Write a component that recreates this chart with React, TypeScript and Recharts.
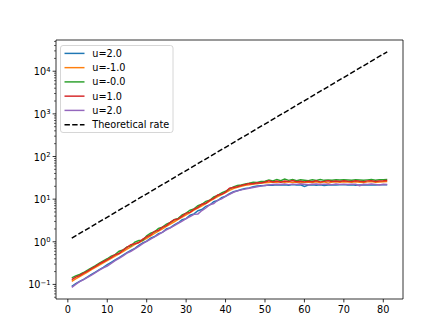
import { LineChart, Line, XAxis, YAxis, Legend, ReferenceArea } from 'recharts'

// growth of the perturbation norm for each u, one value per step (1..81)
const uTwoA = [
  0.09, 0.104, 0.118, 0.132, 0.15, 0.172, 0.195, 0.222, 0.252, 0.29,
  0.33, 0.375, 0.425, 0.485, 0.555, 0.63, 0.7, 0.82, 0.94, 1.04,
  1.22, 1.33, 1.56, 1.66, 2.0, 2.15, 2.5, 2.8, 3.3, 3.5,
  4.2, 4.5, 5.35, 5.7, 6.8, 7.3, 8.7, 9.3, 10.9, 11.7,
  13.4, 14.9, 15.8, 16.8, 17.9, 18.4, 19.5, 20.3, 20.6, 21.0,
  21.4, 21.2, 21.8, 21.3, 21.6, 21.1, 21.9, 21.5, 21.7, 19.8,
  21.4, 21.8, 21.2, 21.6, 20.9, 21.5, 21.8, 21.3, 21.6, 21.9,
  21.5, 21.7, 21.2, 21.6, 21.4, 21.8, 21.5, 21.3, 21.6, 21.7,
  21.6,
]

const uMinusOne = [
  0.118, 0.135, 0.152, 0.172, 0.195, 0.222, 0.25, 0.285, 0.32, 0.36,
  0.41, 0.46, 0.52, 0.59, 0.67, 0.76, 0.87, 0.96, 1.06, 1.2,
  1.38, 1.58, 1.78, 2.02, 2.3, 2.6, 2.95, 3.35, 3.8, 4.3,
  4.8, 5.5, 6.2, 7.0, 7.9, 9.0, 10.1, 11.4, 12.8, 14.2,
  16.0, 17.6, 18.9, 20.0, 21.2, 21.8, 22.6, 23.0, 23.8, 24.2,
  24.6, 25.2, 24.8, 25.6, 24.9, 25.4, 24.6, 25.2, 23.9, 25.0,
  25.3, 24.7, 25.5, 24.3, 25.6, 23.8, 25.1, 25.4, 24.8, 25.6,
  25.2, 24.9, 25.7, 25.0, 24.6, 25.4, 25.8, 24.9, 25.3, 25.5,
  25.8,
]

const uZero = [
  0.142, 0.158, 0.172, 0.19, 0.215, 0.245, 0.275, 0.315, 0.355, 0.4,
  0.46, 0.5, 0.6, 0.64, 0.76, 0.8, 0.98, 1.07, 1.07, 1.38,
  1.6, 1.72, 2.05, 2.2, 2.6, 2.85, 3.3, 3.55, 4.3, 4.7,
  5.5, 5.9, 7.0, 7.6, 8.9, 9.4, 11.3, 12.2, 14.1, 15.3,
  17.5, 19.4, 20.8, 21.5, 22.8, 23.6, 24.8, 24.5, 25.8, 26.4,
  28.0, 26.8, 29.0, 27.2, 29.5, 27.6, 28.8, 27.0, 28.4, 27.8,
  27.2, 28.6, 27.4, 28.9, 27.6, 28.2, 27.8, 28.6, 28.2, 28.4,
  28.0, 27.6, 28.5, 28.1, 27.8, 28.3, 28.9, 27.9, 28.5, 28.7,
  29.0,
]

const uOne = [
  0.13, 0.148, 0.162, 0.185, 0.205, 0.235, 0.265, 0.305, 0.34, 0.38,
  0.43, 0.5, 0.53, 0.64, 0.74, 0.86, 0.9, 0.96, 1.15, 1.3,
  1.45, 1.76, 1.85, 2.2, 2.4, 2.85, 3.3, 3.45, 4.0, 4.7,
  4.9, 5.8, 6.4, 7.6, 8.0, 9.5, 10.4, 12.5, 13.0, 14.6,
  18.0, 18.8, 19.5, 21.0, 22.0, 23.2, 23.0, 24.2, 24.0, 25.2,
  27.0, 25.4, 26.6, 25.0, 26.5, 25.8, 27.3, 25.6, 26.4, 25.4,
  26.2, 25.6, 26.9, 25.4, 26.1, 27.0, 25.9, 26.5, 26.0, 27.1,
  26.4, 26.0, 26.9, 26.2, 25.7, 26.8, 27.1, 26.0, 26.6, 26.9,
  27.4,
]

const uTwoB = [
  0.085, 0.1, 0.116, 0.13, 0.147, 0.166, 0.19, 0.215, 0.245, 0.27,
  0.31, 0.36, 0.41, 0.47, 0.54, 0.6, 0.68, 0.78, 0.9, 1.02,
  1.16, 1.3, 1.48, 1.68, 1.9, 2.12, 2.4, 2.72, 3.05, 3.5,
  3.9, 4.4, 4.5, 5.4, 6.2, 7.4, 7.9, 9.4, 10.1, 11.6,
  12.9, 14.5, 15.6, 16.5, 17.2, 18.0, 18.8, 19.6, 20.2, 21.0,
  21.6, 22.0, 22.4, 22.1, 22.6, 21.9, 22.5, 22.2, 22.7, 22.3,
  21.8, 22.4, 22.6, 22.1, 22.5, 22.3, 21.9, 22.6, 22.2, 22.4,
  22.1, 22.5, 22.3, 20.6, 22.4, 22.0, 22.6, 22.2, 21.5, 22.3,
  22.0,
]

// straight line on the log axis, so its two ends are enough
const theorySteps = [1, 81]
const theoryValues = [1.22, 28600]

const seriesNames = ['u=2.0', 'u=-1.0', 'u=-0.0', 'u=1.0', 'u=2.0']
const seriesValues = [uTwoA, uMinusOne, uZero, uOne, uTwoB]
const seriesColors = ['#1f77b4', '#ff7f0e', '#2ca02c', '#d62728', '#9467bd']

const xTicks = [0, 10, 20, 30, 40, 50, 60, 70, 80]
const yMajor = [0.1, 1, 10, 100, 1000, 10000]
const xDomain = [-3, 85]
const yDomain = [0.0455, 54000]

const yMinor: number[] = []
for (let k = -2; k <= 4; k++) {
  for (let m = 2; m <= 9; m++) {
    const v = m * Math.pow(10, k)
    if (v > yDomain[0] && v < yDomain[1]) yMinor.push(v)
  }
}
const yTicks = [...yMajor, ...yMinor].sort((a, b) => a - b)

const data = uTwoA.map((_, i) => {
  const row: Record<string, number> = { step: i + 1 }
  seriesValues.forEach((vals, s) => {
    row[`s${s}`] = vals[i]
  })
  return row
})

const theoryData = theorySteps.map((step, i) => ({ step, theory: theoryValues[i] }))

const FONT = '"DejaVu Sans", sans-serif'
const FS = 9.7

function XTick({ x, y, payload }: any) {
  return (
    <g>
      <line x1={x} x2={x} y1={y} y2={y + 3.4} stroke="#000" strokeWidth={0.8} />
      <text x={x} y={y + 14.3} textAnchor="middle" fontSize={FS} fontFamily={FONT} fill="#000">
        {payload.value}
      </text>
    </g>
  )
}

function YTick({ x, y, payload }: any) {
  const lg = Math.log10(payload.value)
  const exp = Math.round(lg)
  const major = Math.abs(lg - exp) < 1e-6
  if (!major) {
    return <line x1={x} x2={x - 2} y1={y} y2={y} stroke="#000" strokeWidth={0.6} />
  }
  const label = exp < 0 ? `\u2212${Math.abs(exp)}` : `${exp}`
  return (
    <g>
      <line x1={x} x2={x - 3.4} y1={y} y2={y} stroke="#000" strokeWidth={0.8} />
      <text x={x - 5.5} y={y} textAnchor="end" fontSize={FS} fontFamily={FONT} fill="#000">
        <tspan dy={4}>10</tspan>
        <tspan dy={-3.6} fontSize={6.8}>{label}</tspan>
      </text>
    </g>
  )
}

function LegendBox() {
  const entries = [
    ...seriesNames.map((name, i) => ({ name, color: seriesColors[i], dash: undefined as string | undefined })),
    { name: 'Theoretical rate', color: '#000', dash: '5.4 2.3' },
  ]
  return (
    <svg width={114} height={89} style={{ display: 'block' }}>
      <rect x={0.5} y={0.5} width={112.5} height={87} rx={2.5} fill="#fff" fillOpacity={0.8} stroke="#cccccc" strokeWidth={0.8} />
      {entries.map((e, i) => {
        const cy = 8.4 + i * 14.25
        return (
          <g key={i}>
            <line x1={4.5} x2={24.5} y1={cy} y2={cy} stroke={e.color} strokeWidth={1.46} strokeDasharray={e.dash} />
            <text x={32.3} y={cy + 3.5} fontSize={FS} fontFamily={FONT} fill="#000">{e.name}</text>
          </g>
        )
      })}
    </svg>
  )
}

export default function App() {
  return (
    <div style={{ position: 'absolute', left: 0, top: 0, width: 448, height: 336, background: '#fff' }}>
      <LineChart width={448} height={336} data={data} margin={{ top: 40, right: 45, bottom: 0, left: 0 }}>
        <XAxis
          dataKey="step"
          type="number"
          domain={xDomain}
          ticks={xTicks}
          interval={0}
          height={37}
          tickSize={0}
          tickMargin={0}
          tickLine={false}
          axisLine={false}
          tick={<XTick />}
          allowDataOverflow
        />
        <YAxis
          type="number"
          scale="log"
          domain={yDomain}
          ticks={yTicks}
          interval={0}
          width={56}
          tickSize={0}
          tickMargin={0}
          tickLine={false}
          axisLine={false}
          tick={<YTick />}
          allowDataOverflow
        />
        {seriesNames.map((name, i) => (
          <Line
            key={i}
            dataKey={`s${i}`}
            name={name}
            stroke={seriesColors[i]}
            strokeWidth={1.46}
            dot={false}
            activeDot={false}
            type="linear"
            isAnimationActive={false}
          />
        ))}
        <Line
          data={theoryData}
          dataKey="theory"
          name="Theoretical rate"
          stroke="#000"
          strokeWidth={1.46}
          strokeDasharray="5.4 2.3"
          dot={false}
          activeDot={false}
          type="linear"
          isAnimationActive={false}
        />
        <ReferenceArea
          x1={xDomain[0]}
          x2={xDomain[1]}
          y1={yDomain[0]}
          y2={yDomain[1]}
          fill="none"
          stroke="#000"
          strokeWidth={0.8}
          ifOverflow="visible"
        />
        <Legend
          layout="vertical"
          align="center"
          verticalAlign="middle"
          wrapperStyle={{ left: 60, top: 45, width: 114, height: 89 }}
          content={<LegendBox />}
        />
      </LineChart>
    </div>
  )
}
